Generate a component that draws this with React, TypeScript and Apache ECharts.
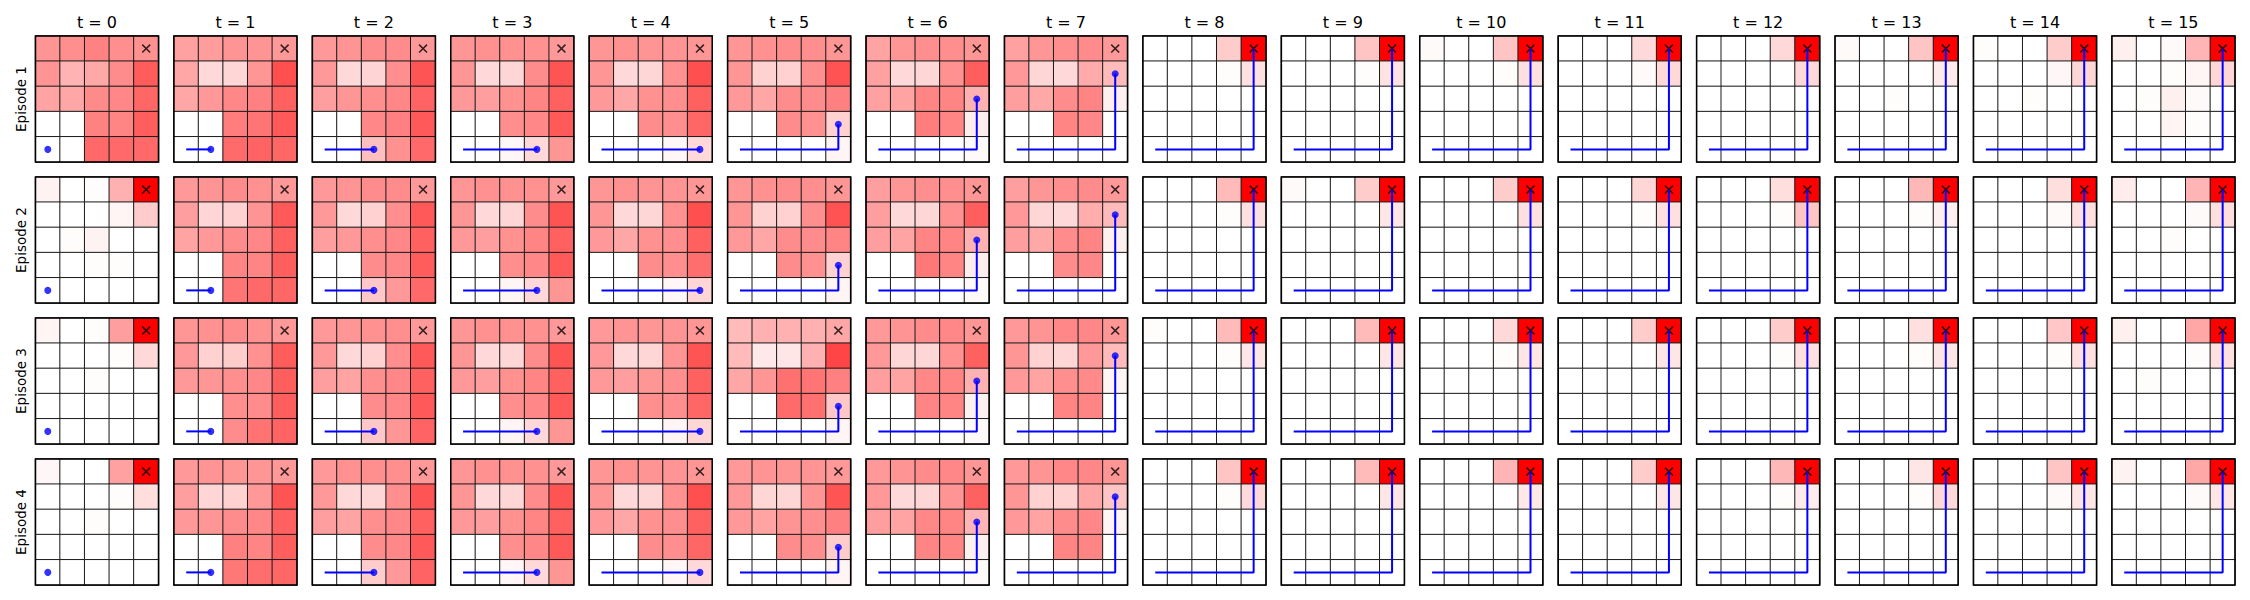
import { useEffect, useRef } from "react";
import * as echarts from "echarts";

const TIME_LABELS = ["t = 0", "t = 1", "t = 2", "t = 3", "t = 4", "t = 5", "t = 6", "t = 7", "t = 8", "t = 9", "t = 10", "t = 11", "t = 12", "t = 13", "t = 14", "t = 15"];
const EPISODE_LABELS = ["Episode 1", "Episode 2", "Episode 3", "Episode 4"];
const GRID_CATS = ["0", "1", "2", "3", "4"];
// agent positions along the trajectory, [x, y], y = 0 at the bottom
const TRAJECTORY = [[0, 0], [1, 0], [2, 0], [3, 0], [4, 0], [4, 1], [4, 2], [4, 3], [4, 4]];
const GOAL = [4, 4];

// intensity (0-100) of each cell, rows from top (y=4) to bottom (y=0)
const EPISODE_1 = [
  [42,44,49,44,43, 42,30,34,45,64, 36,35,46,47,60, 0,0,49,48,63, 0,0,59,59,59],
  [37,39,42,42,40, 35,15,16,41,69, 35,40,47,50,62, 0,0,51,54,65, 0,0,58,61,60],
  [40,42,45,45,40, 40,15,17,44,67, 38,41,44,47,61, 0,0,47,50,65, 0,0,25,43,59],
  [41,43,43,43,40, 41,15,16,45,67, 40,38,43,48,62, 0,0,44,47,65, 0,0,3,15,41],
  [41,43,42,42,41, 41,15,16,43,69, 40,35,43,44,62, 0,0,45,44,60, 0,0,0,3,15],
  [41,43,45,44,41, 41,18,18,44,68, 40,35,45,45,50, 0,0,45,43,18, 0,0,0,0,4],
  [36,41,44,44,41, 37,15,16,43,63, 37,36,48,48,31, 0,0,51,48,7, 0,0,0,0,2],
  [37,41,44,45,40, 40,16,15,33,27, 38,34,45,48,6, 0,0,48,47,0, 0,0,0,0,0],
  [0,0,0,20,100, 0,0,0,1,12, 0,0,0,0,0, 0,0,0,0,0, 0,0,0,0,0],
  [0,0,0,23,100, 0,0,0,1,11, 0,0,0,0,0, 0,0,0,0,0, 0,0,0,0,0],
  [2,0,0,23,100, 0,0,0,1,12, 0,0,0,0,0, 0,0,0,0,0, 0,0,0,0,0],
  [0,0,0,15,100, 0,0,0,2,15, 0,0,0,0,0, 0,0,0,0,0, 0,0,0,0,0],
  [0,0,0,15,100, 0,0,0,0,15, 0,0,0,0,0, 0,0,0,0,0, 0,0,0,0,0],
  [2,0,0,23,100, 0,0,0,0,8, 0,0,1,0,0, 0,0,0,0,0, 0,0,0,0,0],
  [1,0,0,20,100, 0,0,0,3,16, 0,0,1,0,0, 0,0,0,0,0, 0,0,0,0,0],
  [6,0,2,29,100, 0,0,1,4,16, 0,1,6,2,0, 0,0,4,1,0, 0,0,0,0,0],
];
const EPISODE_2 = [
  [5,0,1,31,100, 0,0,0,4,20, 0,1,5,0,0, 0,0,1,1,0, 0,0,0,0,0],
  [40,42,45,43,40, 38,16,18,42,65, 36,40,45,47,62, 0,0,48,48,63, 0,0,54,59,60],
  [40,42,45,45,40, 40,15,18,44,65, 38,40,44,47,62, 0,0,45,47,64, 0,0,22,40,59],
  [41,43,43,43,40, 41,15,16,45,67, 40,38,43,48,62, 0,0,44,47,65, 0,0,4,15,41],
  [41,43,42,42,41, 41,15,16,43,69, 40,35,43,44,62, 0,0,45,44,57, 0,0,0,3,16],
  [41,43,45,44,41, 41,18,18,44,68, 40,35,45,45,48, 0,0,45,43,18, 0,0,0,0,4],
  [38,41,44,44,41, 38,15,16,43,63, 38,36,48,48,31, 0,0,53,48,7, 0,0,0,0,2],
  [38,41,44,45,40, 40,16,15,32,27, 38,34,45,48,6, 0,0,45,47,0, 0,0,0,0,0],
  [0,0,0,27,100, 0,0,0,1,12, 0,0,0,0,0, 0,0,0,0,0, 0,0,0,0,0],
  [2,0,0,20,100, 0,0,0,0,10, 0,0,0,0,0, 0,0,0,0,0, 0,0,0,0,0],
  [0,0,0,20,100, 0,0,0,0,12, 0,0,0,0,0, 0,0,0,0,0, 0,0,0,0,0],
  [0,0,0,16,100, 0,0,0,1,12, 0,0,0,0,0, 0,0,0,0,0, 0,0,0,0,0],
  [0,0,0,13,100, 0,0,0,1,23, 0,0,0,0,0, 0,0,0,0,0, 0,0,0,0,0],
  [0,0,0,28,100, 0,0,0,1,6, 0,0,0,0,0, 0,0,0,0,0, 0,0,0,0,0],
  [0,0,0,13,100, 0,0,0,2,12, 0,0,0,0,0, 0,0,0,0,0, 0,0,0,0,0],
  [7,0,0,29,100, 0,0,0,2,13, 0,0,1,0,0, 0,0,0,0,0, 0,0,0,0,0],
];
const EPISODE_3 = [
  [4,0,1,38,100, 0,0,0,1,15, 0,0,1,0,0, 0,0,0,0,0, 0,0,0,0,0],
  [41,43,45,43,40, 40,18,20,43,64, 40,41,44,47,63, 0,0,44,45,63, 0,0,45,55,61],
  [40,41,43,44,40, 40,15,18,44,65, 38,36,44,47,62, 0,0,45,47,65, 0,0,22,41,61],
  [41,43,43,43,40, 41,15,16,45,67, 40,38,43,48,62, 0,0,44,47,65, 0,0,4,15,41],
  [40,42,41,42,41, 40,15,16,42,67, 40,38,41,44,62, 0,0,44,44,60, 0,0,0,4,16],
  [27,31,31,31,35, 27,9,10,31,73, 35,41,56,54,50, 0,0,58,56,22, 0,0,0,0,4],
  [40,42,45,47,41, 40,16,16,43,62, 38,36,47,48,31, 0,0,48,48,6, 0,0,0,0,2],
  [40,42,47,47,41, 41,18,16,40,27, 40,36,44,46,4, 0,0,48,48,0, 0,0,0,0,0],
  [1,0,0,27,100, 0,0,0,1,10, 0,0,0,0,0, 0,0,0,0,0, 0,0,0,0,0],
  [0,0,0,27,100, 0,0,0,0,10, 0,0,0,0,0, 0,0,0,0,0, 0,0,0,0,0],
  [0,0,0,15,100, 0,0,0,1,10, 0,0,0,0,0, 0,0,0,0,0, 0,0,0,0,0],
  [0,0,0,20,100, 0,0,0,0,10, 0,0,0,0,0, 0,0,0,0,0, 0,0,0,0,0],
  [0,0,0,20,100, 0,0,0,1,12, 0,0,0,0,0, 0,0,0,0,0, 0,0,0,0,0],
  [0,0,0,12,100, 0,0,0,1,10, 0,0,0,0,0, 0,0,0,0,0, 0,0,0,0,0],
  [0,0,0,22,100, 0,0,0,1,12, 0,0,0,0,0, 0,0,0,0,0, 0,0,0,0,0],
  [6,0,0,35,100, 0,0,0,1,12, 0,1,0,0,0, 0,0,0,0,0, 0,0,0,0,0],
];
const EPISODE_4 = [
  [3,0,0,37,100, 0,0,0,1,13, 0,0,1,0,0, 0,0,0,0,0, 0,0,0,0,0],
  [40,42,41,41,40, 38,16,18,40,67, 40,41,45,47,62, 0,0,50,48,63, 0,0,53,57,60],
  [40,43,44,44,40, 40,15,16,44,67, 38,36,44,47,62, 0,0,45,47,65, 0,0,20,40,61],
  [41,43,43,43,40, 41,15,16,45,67, 40,38,43,48,62, 0,0,44,47,65, 0,0,3,15,41],
  [41,43,42,42,41, 41,15,16,43,69, 40,35,43,44,62, 0,0,45,44,60, 0,0,0,3,15],
  [40,42,42,42,40, 40,16,16,42,67, 40,36,42,44,50, 0,0,45,44,20, 0,0,0,0,4],
  [40,42,45,47,41, 40,15,16,42,62, 38,36,47,48,29, 0,0,48,48,6, 0,0,0,0,2],
  [40,42,47,47,41, 41,18,18,35,23, 40,36,45,47,4, 0,0,48,48,0, 0,0,0,0,0],
  [0,0,0,23,100, 0,0,0,1,15, 0,0,0,0,0, 0,0,0,0,0, 0,0,0,0,0],
  [0,0,0,27,100, 0,0,0,0,10, 0,0,0,0,0, 0,0,0,0,0, 0,0,0,0,0],
  [0,0,0,29,100, 0,0,0,0,9, 0,0,0,0,0, 0,0,0,0,0, 0,0,0,0,0],
  [0,0,0,20,100, 0,0,0,0,10, 0,0,0,0,0, 0,0,0,0,0, 0,0,0,0,0],
  [0,0,0,28,100, 0,0,0,1,8, 0,0,0,0,0, 0,0,0,0,0, 0,0,0,0,0],
  [0,0,0,10,100, 0,0,0,1,15, 0,0,0,0,0, 0,0,0,0,0, 0,0,0,0,0],
  [0,0,0,23,100, 0,0,0,2,10, 0,0,0,0,0, 0,0,0,0,0, 0,0,0,0,0],
  [5,0,0,34,100, 0,0,0,2,10, 0,0,0,0,0, 0,0,0,0,0, 0,0,0,0,0],
];
const EPISODES = [EPISODE_1, EPISODE_2, EPISODE_3, EPISODE_4];

const X_SYMBOL = "path://M0,1.2L1.2,0L10,8.8L8.8,10Z M8.8,0L10,1.2L1.2,10L0,8.8Z";

function buildOption() {
  const left0 = 35.5, dx = 138.43, top0 = 36, dy = 141, w = 123, h = 126;
  const grid: any[] = [], xAxis: any[] = [], yAxis: any[] = [], series: any[] = [], graphic: any[] = [];
  const heatIdx: number[] = [];
  const font = "DejaVu Sans, sans-serif";
  TIME_LABELS.forEach((label, c) => {
    graphic.push({
      type: "text", x: left0 + c * dx + w / 2, y: 22, z: 20,
      style: { text: label, textAlign: "center", textVerticalAlign: "middle", fontSize: 16, fontFamily: font, fill: "#000" },
    });
  });
  EPISODE_LABELS.forEach((label, r) => {
    graphic.push({
      type: "text", x: 20.5, y: top0 + r * dy + h / 2, rotation: Math.PI / 2, z: 20,
      style: { text: label, textAlign: "center", textVerticalAlign: "middle", fontSize: 13.5, fontFamily: font, fill: "#000" },
    });
  });
  EPISODES.forEach((ep, r) => {
    ep.forEach((cells, t) => {
      const gi = grid.length;
      const gl = left0 + t * dx, gt = top0 + r * dy;
      grid.push({ left: gl, top: gt, width: w, height: h });
      xAxis.push({ type: "category", gridIndex: gi, data: GRID_CATS, show: false });
      yAxis.push({ type: "category", gridIndex: gi, data: GRID_CATS, show: false });
      const data = cells.map((v, i) => [i % 5, 4 - Math.floor(i / 5), v]);
      heatIdx.push(series.length);
      series.push({
        type: "heatmap", xAxisIndex: gi, yAxisIndex: gi, data, silent: true, z: 2,
        itemStyle: { borderColor: "#1a1a1a", borderWidth: 1 },
        emphasis: { disabled: true },
      });
      const step = Math.min(t, TRAJECTORY.length - 1);
      const path = TRAJECTORY.slice(0, step + 1);
      series.push({
        type: "scatter", xAxisIndex: gi, yAxisIndex: gi, data: [GOAL], symbol: X_SYMBOL, symbolSize: 9,
        itemStyle: { color: "#000" }, silent: true, z: 3,
      });
      if (path.length > 1) {
        series.push({
          type: "line", xAxisIndex: gi, yAxisIndex: gi, data: path, symbol: "none", silent: true, z: 4,
          lineStyle: { color: "#0000ff", width: 2 },
        });
      }
      if (step < TRAJECTORY.length - 1) {
        series.push({
          type: "scatter", xAxisIndex: gi, yAxisIndex: gi, data: [path[path.length - 1]], symbol: "circle", symbolSize: 7,
          itemStyle: { color: "#0000ff" }, silent: true, z: 5,
        });
      }
      graphic.push({
        type: "rect", shape: { x: gl, y: gt, width: w, height: h }, z: 10, silent: true,
        style: { fill: "none", stroke: "#000", lineWidth: 1.5 },
      });
    });
  });
  return {
    animation: false,
    backgroundColor: "#ffffff",
    grid, xAxis, yAxis, series, graphic,
    visualMap: {
      type: "continuous", show: false, min: 0, max: 100, dimension: 2, seriesIndex: heatIdx,
      inRange: { color: ["#ffffff", "#ff0000"] },
    },
  };
}

export default function App() {
  const ref = useRef<HTMLDivElement>(null);
  useEffect(() => {
    if (!ref.current) return;
    const chart = echarts.init(ref.current, null, { renderer: "svg" });
    chart.setOption(buildOption() as any);
    return () => chart.dispose();
  }, []);
  return <div ref={ref} style={{ position: "fixed", left: 0, top: 0, width: 2250, height: 600 }} />;
}
